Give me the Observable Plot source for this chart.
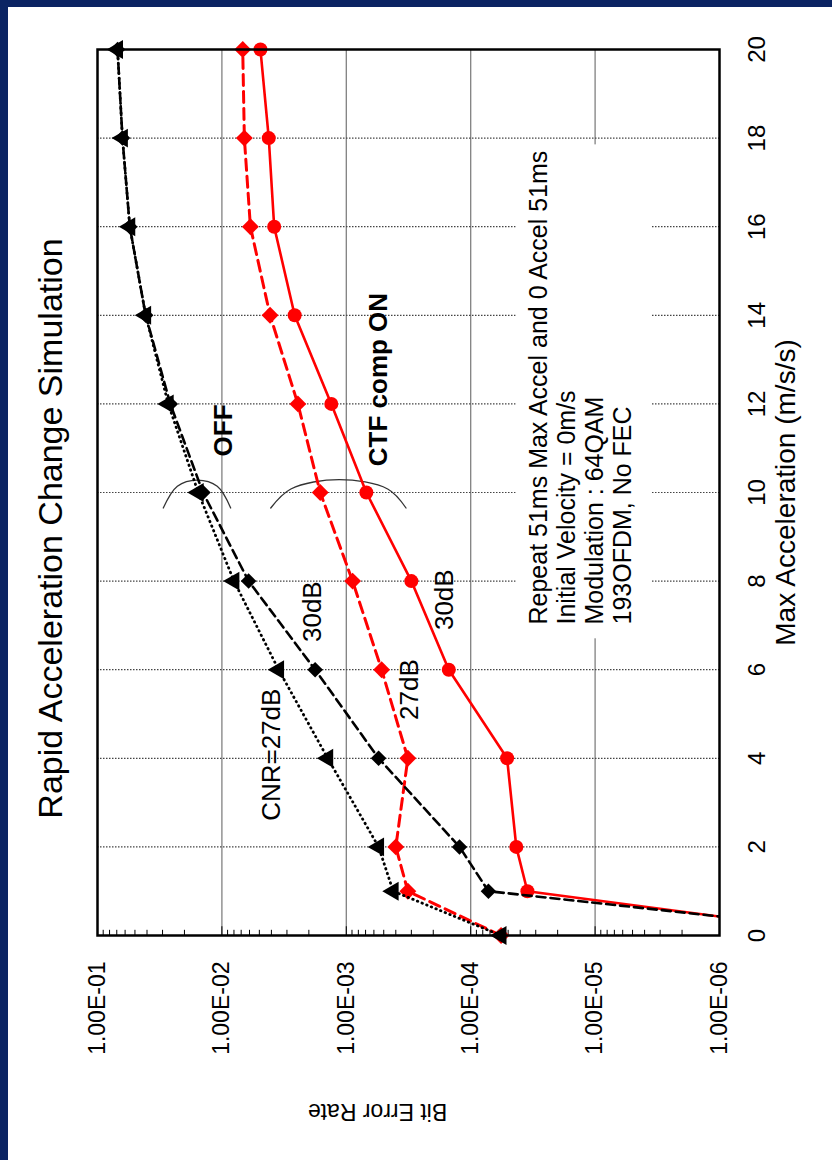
<!DOCTYPE html>
<html><head><meta charset="utf-8">
<script src="https://cdn.jsdelivr.net/npm/d3@7"></script>
<script src="https://cdn.jsdelivr.net/npm/@observablehq/plot@0.6"></script>
<style>
html,body{margin:0;padding:0;background:#fff;}
body{width:832px;height:1160px;position:relative;overflow:hidden;}
#navyTop{position:absolute;left:0;top:0;width:832px;height:7px;background:#0b2463;}
#navyLeft{position:absolute;left:0;top:0;width:8px;height:1160px;background:#0b2463;}
#rot{position:absolute;left:0;top:0;width:1160px;height:832px;transform-origin:0 0;transform:translate(0px,1160px) rotate(-90deg);}
</style></head>
<body>
<div id="rot"></div>
<div id="navyTop"></div><div id="navyLeft"></div>
<script>
// ---- data ----
const accel = [0, 1, 2, 4, 6, 8, 10, 12, 14, 16, 18, 20];
const berOff27 = [5.7e-5, 4.2e-4, 5.5e-4, 1.41e-3, 3.5e-3, 8.0e-3, 1.55e-2, 2.7e-2, 4.1e-2, 5.5e-2, 6.3e-2, 6.9e-2];
const berOff30 = [4e-8, 7.2e-5, 1.23e-4, 5.5e-4, 1.78e-3, 6.1e-3, 1.42e-2, 2.6e-2, 4.1e-2, 5.5e-2, 6.3e-2, 6.9e-2];
const berOn27  = [5.7e-5, 3.2e-4, 4.0e-4, 3.2e-4, 5.2e-4, 8.9e-4, 1.62e-3, 2.45e-3, 4.1e-3, 5.9e-3, 6.6e-3, 6.8e-3];
const berOn30  = [7e-8, 3.5e-5, 4.3e-5, 5.1e-5, 1.5e-4, 3.0e-4, 6.9e-4, 1.32e-3, 2.6e-3, 3.8e-3, 4.2e-3, 4.9e-3];

const accelTicks = [0, 2, 4, 6, 8, 10, 12, 14, 16, 18, 20];
const accelGrid = [2, 4, 6, 8, 10, 12, 14, 16, 18];
const berTicks = [1e-6, 1e-5, 1e-4, 1e-3, 1e-2, 1e-1];
const berTickLabels = ["1.00E-06", "1.00E-05", "1.00E-04", "1.00E-03", "1.00E-02", "1.00E-01"];
const berGrid = [1e-5, 1e-4, 1e-3, 1e-2];

const titleText = "Rapid Acceleration Change Simulation";
const xLabel = "Max Acceleration (m/s/s)";
const yLabel = "Bit Error Rate";

// annotation labels (accel, BER positions)
const labelText   = ["CNR=27dB", "30dB", "27dB", "30dB"];
const labelAccel  = [4.08, 7.31, 5.55, 7.58];
const labelBer    = [3.97e-3, 1.86e-3, 3.1e-4, 1.62e-4];
const boldText  = ["OFF", "CTF comp ON"];
const boldAccel = [11.40, 12.55];
const boldBer   = [9.7e-3, 5.5e-4];
const noteLines = ["Repeat 51ms Max Accel and 0 Accel 51ms", "Initial Velocity = 0m/s", "Modulation : 64QAM", "193OFDM, No FEC"];
const noteAccel = 7.02, noteBer = 3.56e-5;
const noteBox = {x1: 6.72, x2: 17.87, y1: 4.3e-5, y2: 3.5e-6};
const arcOffAccel = [9.65, 10.14, 10.28, 10.14, 9.65];
const arcOffBer   = [2.96e-2, 2.28e-2, 1.58e-2, 1.09e-2, 8.5e-3];
const arcOnAccel  = [9.65, 10.08, 10.29, 10.08, 9.65];
const arcOnBer    = [4.05e-3, 2.79e-3, 1.14e-3, 4.65e-4, 3.31e-4];

// ---- build tables ----
const rows = arr => accel.map((a, i) => ({a, b: arr[i]}));
const off27 = rows(berOff27), off30 = rows(berOff30), on27 = rows(berOn27), on30 = rows(berOn30);
const vis = t => t.filter(d => d.b >= 1e-6);
const labels = labelText.map((t, i) => ({t, a: labelAccel[i], b: labelBer[i]}));
const bolds = boldText.map((t, i) => ({t, a: boldAccel[i], b: boldBer[i]}));
const arcOff = arcOffAccel.map((a, i) => ({a, b: arcOffBer[i]}));
const arcOn = arcOnAccel.map((a, i) => ({a, b: arcOnBer[i]}));
const logTicks = d3.scaleLog().domain([1e-6, 1e-1]).ticks();
const minorTicks = logTicks.filter(v => !berTicks.some(t => Math.abs(t - v) / t < 1e-6));

const RED = "#ff0000";
const FONT = "'Liberation Sans', Arial, sans-serif";

const chart = Plot.plot({
  width: 1160, height: 832,
  marginLeft: 224, marginRight: 50, marginTop: 97, marginBottom: 113,
  style: {fontFamily: FONT, background: "transparent", color: "black", overflow: "visible"},
  x: {domain: [0, 20]},
  y: {type: "log", domain: [1e-6, 1e-1]},
  marks: [
    Plot.ruleY(berGrid, {stroke: "#808080", strokeWidth: 1.3}),
    Plot.ruleX(accelGrid, {stroke: "#444", strokeWidth: 1.2, strokeDasharray: "1.5,1.5"}),
    Plot.rect([noteBox], {x1: "x1", x2: "x2", y1: "y1", y2: "y2", fill: "white"}),
    Plot.ruleY(minorTicks, {x1: 0, x2: 0.14, stroke: "black", strokeWidth: 1}),
    Plot.ruleY(berTicks, {x1: 0, x2: 0.22, stroke: "black", strokeWidth: 1}),
    Plot.axisX({ticks: accelTicks, tickSize: 0, tickPadding: 28, fontSize: 24, label: null, tickFormat: d => String(d)}),
    Plot.axisY({ticks: berTicks, tickSize: 0, tickPadding: 26, fontSize: 23, label: null,
      tickFormat: d => berTickLabels[berTicks.indexOf(d)]}),
    Plot.line(arcOff, {x: "a", y: "b", curve: "catmull-rom", stroke: "#333", strokeWidth: 1.3}),
    Plot.line(arcOn, {x: "a", y: "b", curve: "catmull-rom", stroke: "#333", strokeWidth: 1.3}),
    // red series
    Plot.line(on30, {x: "a", y: "b", stroke: RED, strokeWidth: 2.6, clip: true}),
    Plot.line(on27, {x: "a", y: "b", stroke: RED, strokeWidth: 3, strokeDasharray: "11,6", clip: true}),
    Plot.dot(vis(on30), {x: "a", y: "b", r: 7, fill: RED, symbol: "circle"}),
    Plot.dot(vis(on27), {x: "a", y: "b", r: 7.6, fill: RED, symbol: "diamond2"}),
    // black series
    Plot.line(off30, {x: "a", y: "b", stroke: "black", strokeWidth: 2.6, strokeDasharray: "9,5", clip: true}),
    Plot.line(off27, {x: "a", y: "b", stroke: "black", strokeWidth: 2.8, strokeDasharray: "0.5,4.5", strokeLinecap: "round", clip: true}),
    Plot.dot(vis(off30), {x: "a", y: "b", r: 7, fill: "black", symbol: "diamond2"}),
    Plot.dot(vis(off27), {x: "a", y: "b", r: 7, fill: "black", symbol: "triangle"}),
    // annotations
    Plot.text(labels, {x: "a", y: "b", text: "t", fontSize: 26, fill: "black"}),
    Plot.text(bolds, {x: "a", y: "b", text: "t", fontSize: 26, fontWeight: "bold", fill: "black"}),
    Plot.text([noteLines.join("\n")], {x: noteAccel, y: noteBer, text: d => d, textAnchor: "start", lineAnchor: "top", lineHeight: 1.13, fontSize: 25, fill: "black"}),
    Plot.text([xLabel], {frameAnchor: "bottom", dy: 67, text: d => d, textAnchor: "middle", lineAnchor: "middle", fontSize: 28, fill: "black"}),
    Plot.text([yLabel], {frameAnchor: "left", dx: -176, dy: -31, rotate: -90, text: d => d, textAnchor: "middle", lineAnchor: "middle", fontSize: 23, fill: "black"}),
    Plot.text([titleText], {frameAnchor: "top", dy: -46, dx: -36, text: d => d, textAnchor: "middle", lineAnchor: "middle", fontSize: 34, fill: "black"}),
    Plot.frame({stroke: "black", strokeWidth: 2.5})
  ]
});
document.getElementById("rot").appendChild(chart);
</script>
</body></html>
